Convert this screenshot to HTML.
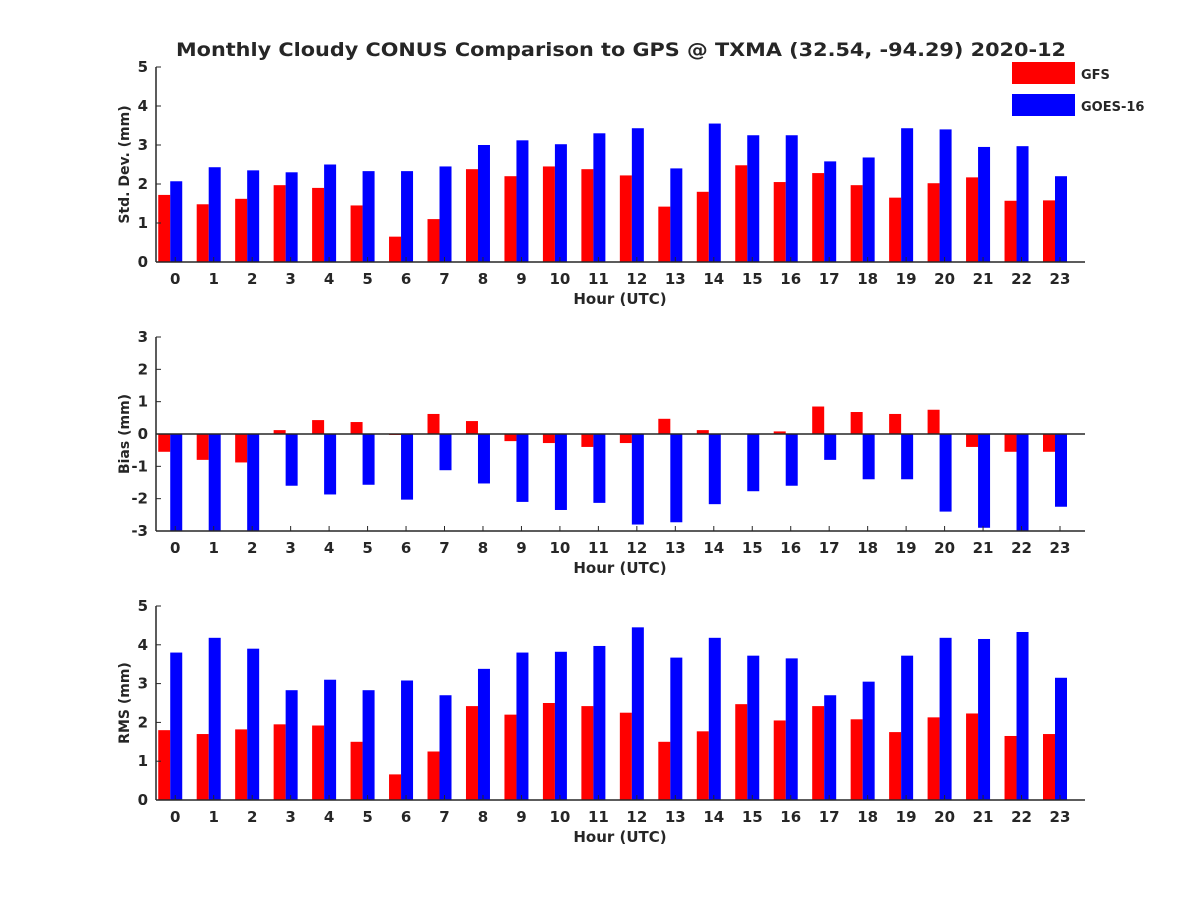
<!DOCTYPE html>
<html><head><meta charset="utf-8"><style>
body{margin:0;background:#fff}
svg text{font-family:"DejaVu Sans","Liberation Sans",sans-serif;font-weight:bold;fill:#262626}
</style></head><body>
<svg id="fig" width="1200" height="900" xmlns="http://www.w3.org/2000/svg">
<rect width="1200" height="900" fill="#fff"/>
<text x="621" y="56" text-anchor="middle" font-size="19" textLength="890" lengthAdjust="spacingAndGlyphs">Monthly Cloudy CONUS Comparison to GPS @ TXMA (32.54, -94.29) 2020-12</text>
<g>
<rect x="1012" y="62" width="63" height="22" fill="#ff0000"/>
<text x="1081" y="79" font-size="13">GFS</text>
<rect x="1012" y="94" width="63" height="22" fill="#0000ff"/>
<text x="1081" y="111" font-size="13">GOES-16</text>
</g>
</svg>
<script>
const hours=[0,1,2,3,4,5,6,7,8,9,10,11,12,13,14,15,16,17,18,19,20,21,22,23];
const stdGFS=[1.72,1.48,1.62,1.97,1.9,1.45,0.65,1.1,2.38,2.2,2.45,2.38,2.22,1.42,1.8,2.48,2.05,2.28,1.97,1.65,2.02,2.17,1.57,1.58];
const stdGOES=[2.07,2.43,2.35,2.3,2.5,2.33,2.33,2.45,3.0,3.12,3.02,3.3,3.43,2.4,3.55,3.25,3.25,2.58,2.68,3.43,3.4,2.95,2.97,2.2];
const biasGFS=[-0.55,-0.8,-0.88,0.12,0.43,0.37,-0.03,0.62,0.4,-0.22,-0.28,-0.4,-0.28,0.47,0.12,0,0.08,0.85,0.68,0.62,0.75,-0.4,-0.55,-0.55];
const biasGOES=[-3.2,-3.2,-3.2,-1.6,-1.87,-1.57,-2.03,-1.12,-1.53,-2.1,-2.35,-2.13,-2.8,-2.73,-2.17,-1.77,-1.6,-0.8,-1.4,-1.4,-2.4,-2.9,-3.2,-2.25];
const rmsGFS=[1.8,1.7,1.82,1.95,1.92,1.5,0.66,1.25,2.42,2.2,2.5,2.42,2.25,1.5,1.77,2.47,2.05,2.42,2.08,1.75,2.13,2.23,1.65,1.7];
const rmsGOES=[3.8,4.18,3.9,2.83,3.1,2.83,3.08,2.7,3.38,3.8,3.82,3.97,4.45,3.67,4.18,3.72,3.65,2.7,3.05,3.72,4.18,4.15,4.33,3.15];
const stdTicks=[0,1,2,3,4,5];
const biasTicks=[-3,-2,-1,0,1,2,3];
const rmsTicks=[0,1,2,3,4,5];
const NS="http://www.w3.org/2000/svg";
const svg=document.getElementById('fig');
const X0=156,X1=1085;
function xs(h){return X0+(h+0.5)*(X1-X0)/24.15;}
function mk(tag,attrs,parent){const e=document.createElementNS(NS,tag);for(const k in attrs)e.setAttribute(k,attrs[k]);(parent||svg).appendChild(e);return e;}
function panel(name,top,bot,ymin,ymax,ticks,ylabel,a,b){
  const g=mk('g',{});
  
  
  const ys=v=>bot-(v-ymin)*(bot-top)/(ymax-ymin);
  const clip=mk('clipPath',{id:'c'+name},g);
  mk('rect',{x:X0,y:top,width:X1-X0,height:bot-top},clip);
  const bars=mk('g',{'clip-path':'url(#c'+name+')'},g);
  const base=ys(Math.max(0,ymin));
  hours.forEach((h,i)=>{
    const c=xs(h);
    [[a[i],'#ff0000',-17,'gfs'],[b[i],'#0000ff',-5,'goes16']].forEach(([v,col,off,s])=>{
      const y=ys(v);
      const r=mk('rect',{x:c+off,y:Math.min(y,base),width:12,height:Math.abs(y-base),fill:col},bars);
      
      
    });
    const tl=mk('text',{x:c,y:bot+22,'text-anchor':'middle','font-size':15},g);
    tl.textContent=h;
    
    
    mk('line',{x1:c,x2:c,y1:bot,y2:bot-5,stroke:'#262626'},g);
  });
  ticks.forEach(t=>{
    const y=ys(t);
    mk('line',{x1:X0+5,x2:X0,y1:y,y2:y,stroke:'#262626'},g);
    const tl=mk('text',{x:X0-8,y:y+5,'text-anchor':'end','font-size':15},g);
    tl.textContent=t;
    
    
  });
  if(ymin<0) mk('line',{x1:X0,x2:X1,y1:ys(0),y2:ys(0),stroke:'#262626','stroke-width':1.5},g);
  mk('line',{x1:X0,x2:X0,y1:top,y2:bot,stroke:'#262626','stroke-width':1.5},g);
  mk('line',{x1:X0,x2:X1,y1:bot,y2:bot,stroke:'#262626','stroke-width':1.5},g);
  const xl=mk('text',{x:620,y:bot+42,'text-anchor':'middle','font-size':15},g);
  xl.textContent='Hour (UTC)';
  
  
  const yl=mk('text',{x:0,y:0,'text-anchor':'middle','font-size':14,transform:`translate(129,${(top+bot)/2}) rotate(-90)`},g);
  yl.textContent=ylabel;
  
  
}
panel('std',67,262,0,5,stdTicks,'Std. Dev. (mm)',stdGFS,stdGOES);
panel('bias',337,531,-3,3,biasTicks,'Bias (mm)',biasGFS,biasGOES);
panel('rms',606,800,0,5,rmsTicks,'RMS (mm)',rmsGFS,rmsGOES);
</script>
</body></html>
